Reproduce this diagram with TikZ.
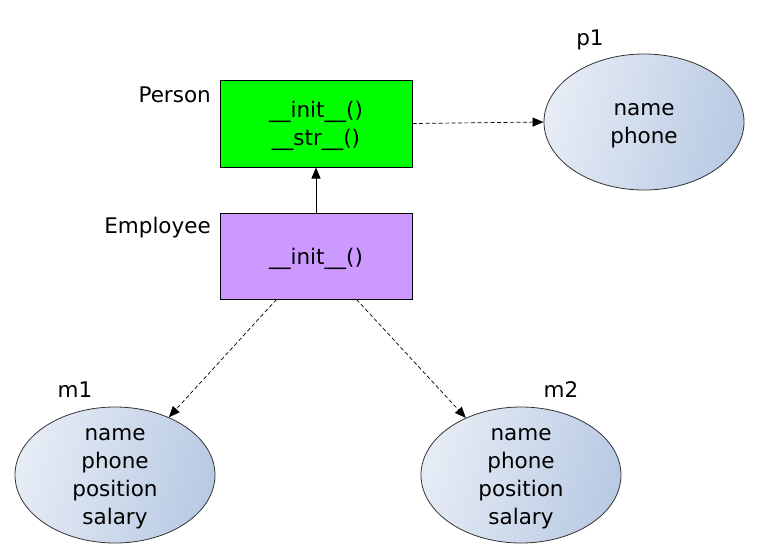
\documentclass[tikz,border=0pt]{standalone}
\usepackage{fontspec}
\setmainfont{DejaVu Sans}
\usetikzlibrary{shapes.geometric,arrows.meta,calc}
\definecolor{boxgreen}{HTML}{00FF00}
\definecolor{boxpurple}{HTML}{CC99FF}
\definecolor{ellL}{HTML}{E6ECF5}
\definecolor{ellR}{HTML}{B9CAE3}
\begin{document}
\begin{tikzpicture}[x=1pt,y=-1pt,
  txt/.style={font=\fontsize{21.5}{28}\selectfont, align=center, inner sep=0pt},
  classbox/.style={draw=black, line width=1pt, rectangle, minimum width=192pt, minimum height=87pt, inner sep=0pt},
  objell/.style={draw=black!80, line width=0.8pt, ellipse, minimum width=200pt, minimum height=136pt, inner sep=0pt,
    left color=ellL, right color=ellR, shading angle=75},
  inherit/.style={line width=1pt, -{Triangle[length=11pt,width=9pt]}},
  instof/.style={line width=0.7pt, dash pattern=on 4pt off 2.5pt, -{Triangle[length=11pt,width=9pt]}}
]
\useasboundingbox (0,0) rectangle (758,558);

\node[classbox, fill=boxgreen] (person) at (316,123.5) {};
\node[txt] (persontext) at (316,126) {\_\_init\_\_()\\\_\_str\_\_()};
\node[classbox, fill=boxpurple, minimum height=86pt] (emp) at (316,256) {};
\node[txt] (emptext) at (316,259) {\_\_init\_\_()};

\node[txt, anchor=east] (personlbl) at (211,95) {Person};
\node[txt, anchor=east] (emplbl) at (211,228) {Employee};

\node[objell] (p1) at (644,122) {};
\node[txt] (p1text) at (644,126) {name\\phone};
\node[txt] (p1lbl) at (590,40) {p1};

\node[objell] (m1) at (115,475) {};
\node[txt] (m1text) at (115,479) {name\\phone\\position\\salary};
\node[txt] (m1lbl) at (75,390) {m1};

\node[objell] (m2) at (521,475) {};
\node[txt] (m2text) at (521,479) {name\\phone\\position\\salary};
\node[txt] (m2lbl) at (561,390) {m2};

\coordinate (empA) at ($(emp.south west)!0.295!(emp.south east)$);
\coordinate (empB) at ($(emp.south west)!0.71!(emp.south east)$);

\draw[inherit] (emp.north) -- (person.south);
\draw[instof] (person.east) -- (p1.west);
\draw[instof] (empA) -- (m1.47);
\draw[instof] (empB) -- (m2.134);
\end{tikzpicture}
\end{document}
